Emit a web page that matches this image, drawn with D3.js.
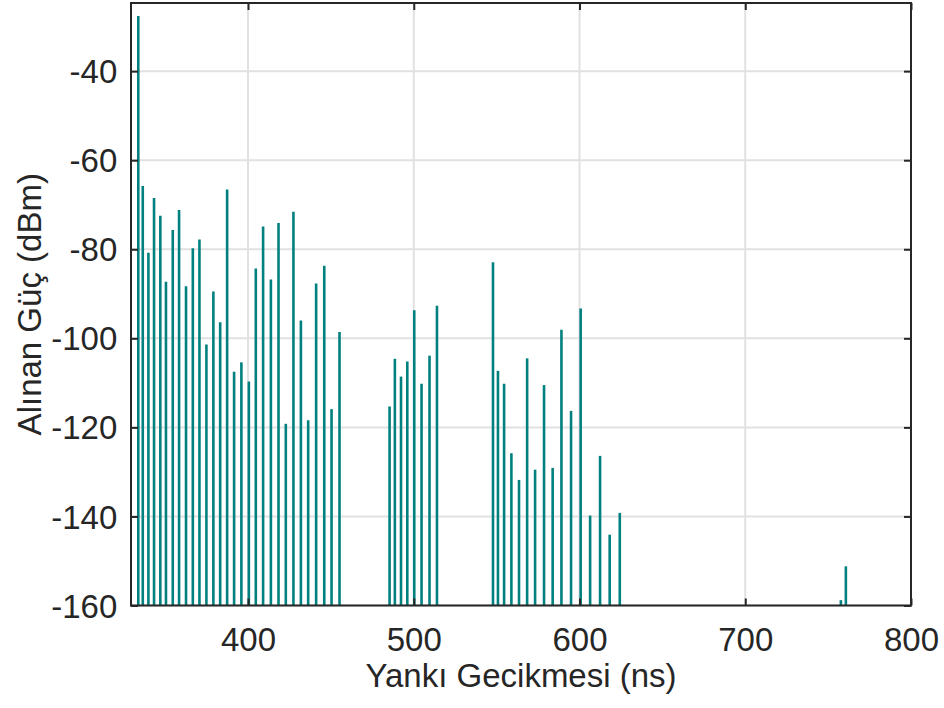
<!DOCTYPE html>
<html>
<head>
<meta charset="utf-8">
<script src="https://cdn.jsdelivr.net/npm/d3@7"></script>
<style>
  html, body { margin: 0; padding: 0; background: #fff; }
  svg { display: block; font-family: "Liberation Sans", Arial, sans-serif; }
</style>
</head>
<body>
<svg id="chart" width="944" height="708"></svg>
<script>
// Delays (ns) and received power (dBm)
const delays = [
  333.8, 336.5, 339.9, 343.3, 347.1, 350.5, 354.6, 358.4, 362.6, 366.7,
  370.7, 374.9, 379.1, 383.2, 387.4, 391.6, 396.0, 400.5, 404.7, 409.1,
  413.8, 418.4, 422.8, 427.4, 431.9, 436.3, 441.1, 446.0, 450.4, 455.2,
  485.4, 488.6, 492.3, 496.1, 500.3, 504.7, 509.5, 514.0,
  547.8, 550.8, 554.5, 558.9, 563.5, 568.4, 573.2, 578.6, 583.8, 589.1,
  594.9, 600.7, 606.4, 612.4, 618.2, 624.3,
  757.7, 760.7
];
const powers = [
  -27.6, -65.8, -80.8, -68.5, -72.5, -87.3, -75.7, -71.2, -88.3, -79.8,
  -77.8, -101.4, -89.5, -96.4, -66.6, -107.5, -105.4, -109.7, -84.3, -74.9,
  -86.8, -74.1, -119.2, -71.6, -96.0, -118.4, -87.7, -83.7, -115.9, -98.6,
  -115.3, -104.6, -108.6, -105.2, -93.7, -110.2, -103.9, -92.7,
  -82.9, -107.3, -110.2, -125.8, -131.8, -104.5, -129.5, -110.5, -129.1, -98.1,
  -116.3, -93.3, -139.8, -126.4, -144.1, -139.2,
  -158.8, -151.2
];
const xTicks = [400, 500, 600, 700, 800];
const yTicks = [-40, -60, -80, -100, -120, -140, -160];
const xDomain = [329.4, 800];
const yDomain = [-160, -24.7];
const xLabel = "Yankı Gecikmesi (ns)";
const yLabel = "Alınan Güç (dBm)";

(function () {
const data = delays.map((d, i) => ({ delay: d, power: powers[i] }));

const svg = d3.select("#chart");
const pLeft = 131, pRight = 911, pTop = 3, pBottom = 605.5;
const fontSize = "33px";

const x = d3.scaleLinear().domain(xDomain).range([pLeft, pRight]);
const y = d3.scaleLinear().domain(yDomain).range([pBottom, pTop]);

// grid
const grid = svg.append("g");
grid.selectAll("line.gx").data(xTicks).join("line").attr("class", "gx")
  .attr("x1", d => x(d)).attr("x2", d => x(d))
  .attr("y1", pTop).attr("y2", pBottom)
  .attr("stroke", "#e1e1e1").attr("stroke-width", 2);
grid.selectAll("line.gy").data(yTicks).join("line").attr("class", "gy")
  .attr("x1", pLeft).attr("x2", pRight)
  .attr("y1", d => y(d)).attr("y2", d => y(d))
  .attr("stroke", "#e1e1e1").attr("stroke-width", 2);

// stems
svg.append("g").selectAll("line").data(data).join("line")
  .attr("x1", d => x(d.delay)).attr("x2", d => x(d.delay))
  .attr("y1", y(-160)).attr("y2", d => y(d.power))
  .attr("stroke", "#00807f").attr("stroke-width", 2.6);

// axes
const axisColor = "#262626";
const tickLen = 7;
const xAxis = svg.append("g").attr("transform", `translate(0,${pBottom})`)
  .call(d3.axisBottom(x).tickValues(xTicks).tickSize(-tickLen).tickPadding(22.5).tickFormat(d3.format("d")));
const xAxisTop = svg.append("g").attr("transform", `translate(0,${pTop})`)
  .call(d3.axisTop(x).tickValues(xTicks).tickSize(-tickLen).tickFormat(""));
const yAxis = svg.append("g").attr("transform", `translate(${pLeft},0)`)
  .call(d3.axisLeft(y).tickValues(yTicks).tickSize(-tickLen).tickPadding(13.7).tickFormat(d => d.toString()));
const yAxisRight = svg.append("g").attr("transform", `translate(${pRight},0)`)
  .call(d3.axisRight(y).tickValues(yTicks).tickSize(-tickLen).tickFormat(""));

[xAxis, xAxisTop, yAxis, yAxisRight].forEach(g => {
  g.select(".domain").remove();
  g.attr("font-size", null).attr("font-family", null);
  g.selectAll(".tick line").attr("stroke", axisColor).attr("stroke-width", 2);
  g.selectAll(".tick text").attr("fill", axisColor).style("font-size", fontSize)
    .style("font-family", "'Liberation Sans', Arial, sans-serif");
});
yAxis.selectAll(".tick text").attr("dy", "0.35em");

// frame
svg.append("rect")
  .attr("x", pLeft).attr("y", pTop)
  .attr("width", pRight - pLeft).attr("height", pBottom - pTop)
  .attr("fill", "none").attr("stroke", axisColor).attr("stroke-width", 2);

// labels
svg.append("text")
  .attr("x", (pLeft + pRight) / 2).attr("y", 687)
  .attr("text-anchor", "middle").attr("fill", axisColor)
  .style("font-size", fontSize).text(xLabel);
svg.append("text")
  .attr("transform", `translate(41,${(pTop + pBottom) / 2}) rotate(-90)`)
  .attr("text-anchor", "middle").attr("fill", axisColor)
  .style("font-size", fontSize).text(yLabel);
})();
</script>
</body>
</html>
